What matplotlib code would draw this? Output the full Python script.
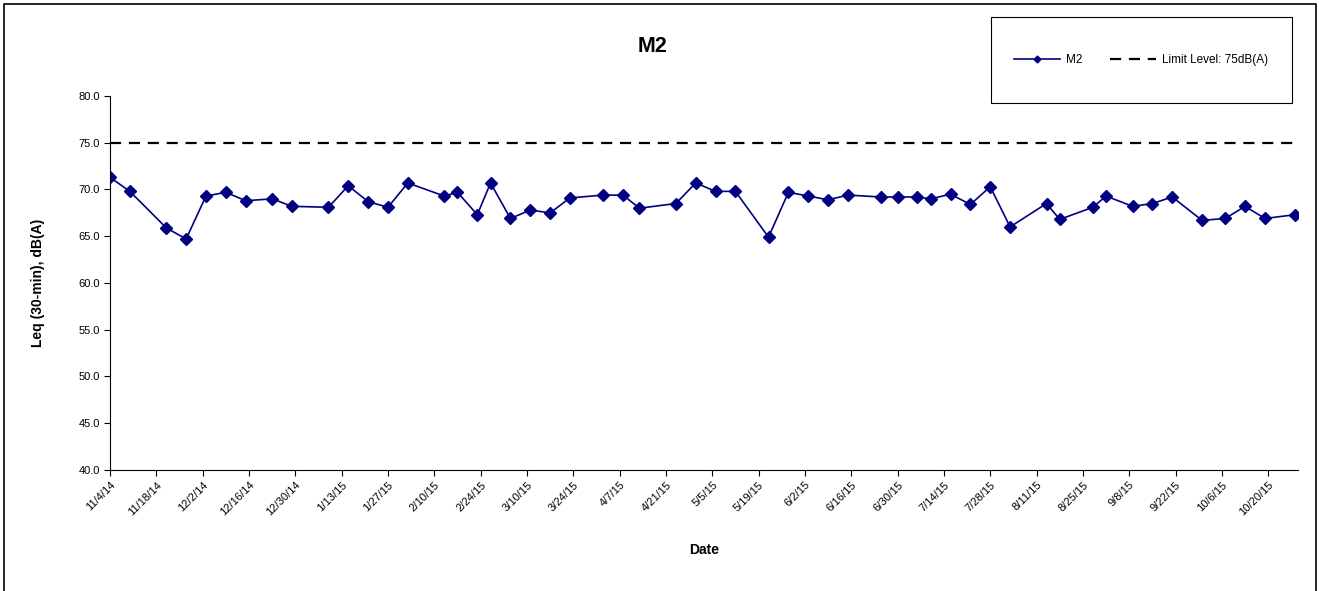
import matplotlib
matplotlib.use('Agg')
import matplotlib.pyplot as plt
from matplotlib.patches import Rectangle
import pandas as pd

plt.rcParams['font.family'] = ['Liberation Sans', 'DejaVu Sans']

# measurement dates and Leq values for M2
dates = ['2014-11-04', '2014-11-10', '2014-11-21', '2014-11-27', '2014-12-03',
         '2014-12-09', '2014-12-15', '2014-12-23', '2014-12-29', '2015-01-09',
         '2015-01-15', '2015-01-21', '2015-01-27', '2015-02-02', '2015-02-13',
         '2015-02-17', '2015-02-23', '2015-02-27', '2015-03-05', '2015-03-11',
         '2015-03-17', '2015-03-23', '2015-04-02', '2015-04-08', '2015-04-13',
         '2015-04-24', '2015-04-30', '2015-05-06', '2015-05-12', '2015-05-22',
         '2015-05-28', '2015-06-03', '2015-06-09', '2015-06-15', '2015-06-25',
         '2015-06-30', '2015-07-06', '2015-07-10', '2015-07-16', '2015-07-22',
         '2015-07-28', '2015-08-03', '2015-08-14', '2015-08-18', '2015-08-28',
         '2015-09-01', '2015-09-09', '2015-09-15', '2015-09-21', '2015-09-30',
         '2015-10-07', '2015-10-13', '2015-10-19', '2015-10-28']
leq = [71.3, 69.8, 65.9, 64.7, 69.3, 69.7, 68.8, 69.0, 68.2, 68.1,
       70.4, 68.7, 68.1, 70.7, 69.3, 69.7, 67.3, 70.7, 66.9, 67.8,
       67.5, 69.1, 69.4, 69.4, 68.0, 68.5, 70.7, 69.8, 69.8, 64.9,
       69.7, 69.3, 68.9, 69.4, 69.2, 69.2, 69.2, 69.0, 69.5, 68.4,
       70.3, 66.0, 68.5, 66.8, 68.1, 69.3, 68.2, 68.5, 69.2, 66.7,
       66.9, 68.2, 66.9, 67.3]
limit = 75
x_start = '2014-11-04'
x_end = '2015-10-29'
tick_step = '14D'

x = pd.to_datetime(dates)

fig = plt.figure(figsize=(13.19, 5.91), dpi=100)
ax = fig.add_axes([110 / 1319, 1 - 470 / 591, 1188 / 1319, 374 / 591])

ax.plot(x, leq, color='#000080', lw=1.2, marker='D', ms=6, label='M2')
ax.axhline(limit, color='black', lw=1.6, ls=(0, (5, 3.5)), label='Limit Level: 75dB(A)')

ax.set_ylim(40, 80)
ax.set_yticks(range(40, 81, 5))
ax.set_yticklabels(['%.1f' % v for v in range(40, 81, 5)], fontsize=8)
ax.set_xlim(pd.Timestamp(x_start), pd.Timestamp(x_end))
ticks = pd.date_range(x_start, x_end, freq=tick_step)
ax.set_xticks(ticks)
ax.set_xticklabels(['%d/%d/%s' % (t.month, t.day, t.strftime('%y')) for t in ticks],
                   rotation=45, ha='right', rotation_mode='anchor', fontsize=8)
ax.tick_params(direction='out', length=4, width=0.8, pad=3)
ax.spines['top'].set_visible(False)
ax.spines['right'].set_visible(False)

ax.set_ylabel('Leq (30-min), dB(A)', fontsize=10, fontweight='bold', labelpad=24)
fig.text(704 / 1319, 1 - 550 / 591, 'Date', fontsize=10, fontweight='bold',
         ha='center', va='center')
fig.text(653 / 1319, 1 - 46 / 591, 'M2', fontsize=15.5, fontweight='bold',
         ha='center', va='center')

# outer chart border
fig.patches.append(Rectangle((4 / 1319, -0.05), 1312 / 1319, 1.05 - 4 / 591,
                             transform=fig.transFigure, fill=False,
                             edgecolor='black', lw=1.2))
# legend box
fig.patches.append(Rectangle((991 / 1319, 1 - 103 / 591), 301 / 1319, 86 / 591,
                             transform=fig.transFigure, fill=False,
                             edgecolor='black', lw=0.8))
leg = fig.legend(loc='center', bbox_to_anchor=(1141 / 1319, 1 - 60 / 591),
                 ncol=2, frameon=False, fontsize=8.5, handlelength=3.9,
                 columnspacing=2.3, handletextpad=0.5)
leg.legend_handles[0].set_markersize(3.5)

fig.savefig('out.png', dpi=100)
